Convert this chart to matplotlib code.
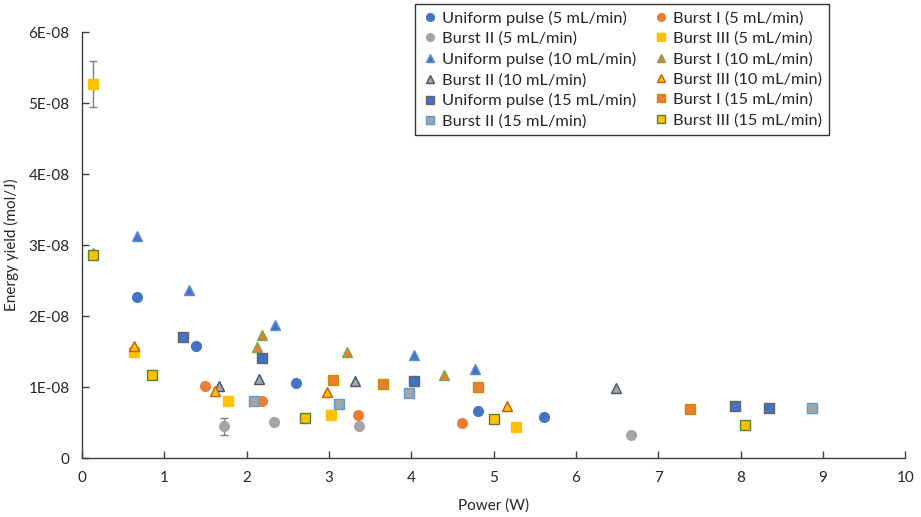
import matplotlib
matplotlib.use("Agg")
import matplotlib.pyplot as plt
from matplotlib.ticker import FuncFormatter, MultipleLocator

plt.rcParams['font.family'] = ['Lato', 'DejaVu Sans']

# Data: power (W) and energy yield (x1e-8 mol/J)
up5_x = [0.67, 1.38, 2.60, 4.81, 5.61]
up5_y = [2.27, 1.58, 1.06, 0.66, 0.58]
b1_5_x = [1.50, 2.19, 3.35, 4.61]
b1_5_y = [1.01, 0.80, 0.60, 0.49]
b2_5_x = [1.72, 2.33, 3.36, 6.67]
b2_5_y = [0.45, 0.51, 0.45, 0.33]
b2_5_err = [0.12, 0, 0, 0]
b3_5_x = [0.14, 0.63, 1.77, 3.03, 5.27]
b3_5_y = [5.27, 1.50, 0.80, 0.61, 0.44]
b3_5_err = [0.32, 0, 0, 0, 0]

up10_x = [0.67, 1.30, 2.35, 4.03, 4.77]
up10_y = [3.13, 2.36, 1.87, 1.45, 1.25]
b1_10_x = [0.14, 2.13, 2.19, 3.22, 4.40]
b1_10_y = [2.89, 1.57, 1.74, 1.50, 1.17]
b2_10_x = [1.67, 2.15, 3.32, 6.48]
b2_10_y = [1.01, 1.11, 1.09, 0.98]
b3_10_x = [0.63, 1.61, 2.98, 5.16]
b3_10_y = [1.58, 0.94, 0.93, 0.74]

up15_x = [1.23, 2.19, 4.03, 7.93, 8.34]
up15_y = [1.70, 1.41, 1.09, 0.73, 0.71]
b1_15_x = [3.05, 3.66, 4.81, 7.38]
b1_15_y = [1.10, 1.04, 1.00, 0.69]
b2_15_x = [2.09, 3.12, 3.97, 8.87]
b2_15_y = [0.80, 0.76, 0.91, 0.71]
b3_15_x = [0.14, 0.85, 2.71, 5.01, 8.05]
b3_15_y = [2.86, 1.17, 0.56, 0.55, 0.47]

blue = '#4472C4'
orange = '#ED7D31'
gray = '#A5A5A5'
gold = '#FFC000'

fig = plt.figure(figsize=(9.21, 5.17), dpi=100)
ax = fig.add_axes([0.089, 0.114, 0.894, 0.824])

def scale(v):
    return [a * 1e-8 for a in v]

# error bars first so the markers sit on top
ax.errorbar(b3_5_x, scale(b3_5_y), yerr=scale(b3_5_err), fmt='none',
            ecolor='#7F7F7F', elinewidth=1, capsize=3, capthick=1, zorder=2)
ax.errorbar(b2_5_x, scale(b2_5_y), yerr=scale(b2_5_err), fmt='none',
            ecolor='#7F7F7F', elinewidth=1, capsize=3, capthick=1, zorder=2)

series = [
    # x, y, marker, face, edge, size, label
    (up5_x, up5_y, 'o', blue, blue, 7, 'Uniform pulse (5 mL/min)'),
    (b1_5_x, b1_5_y, 'o', orange, orange, 7, 'Burst I (5 mL/min)'),
    (b2_5_x, b2_5_y, 'o', gray, gray, 7, 'Burst II (5 mL/min)'),
    (b3_5_x, b3_5_y, 's', gold, gold, 7, 'Burst III (5 mL/min)'),
    (up10_x, up10_y, '^', blue, '#5B8FD5', 7.5, 'Uniform pulse (10 mL/min)'),
    (b1_10_x, b1_10_y, '^', orange, '#70AD47', 7.5, 'Burst I (10 mL/min)'),
    (b2_10_x, b2_10_y, '^', gray, '#44546A', 7.5, 'Burst II (10 mL/min)'),
    (b3_10_x, b3_10_y, '^', gold, '#C55A11', 7.5, 'Burst III (10 mL/min)'),
    (up15_x, up15_y, 's', blue, '#636363', 7, 'Uniform pulse (15 mL/min)'),
    (b1_15_x, b1_15_y, 's', orange, '#BF9000', 7, 'Burst I (15 mL/min)'),
    (b2_15_x, b2_15_y, 's', gray, '#5B9BD5', 7, 'Burst II (15 mL/min)'),
    (b3_15_x, b3_15_y, 's', gold, '#548235', 7, 'Burst III (15 mL/min)'),
]

handles = []
for x, y, m, fc, ec, ms, lab in series:
    h, = ax.plot(x, scale(y), linestyle='none', marker=m, markersize=ms,
                 markerfacecolor=fc, markeredgecolor=ec, markeredgewidth=1.0,
                 label=lab, zorder=3)
    handles.append(h)

ax.set_xlim(0, 10)
ax.set_ylim(0, 6e-8)
ax.xaxis.set_major_locator(MultipleLocator(1))
ax.yaxis.set_major_locator(MultipleLocator(1e-8))

def yfmt(v, pos):
    if abs(v) < 1e-12:
        return '0'
    return f'{v:.0E}'

ax.yaxis.set_major_formatter(FuncFormatter(yfmt))

for s in ['top', 'right']:
    ax.spines[s].set_visible(False)
for s in ['left', 'bottom']:
    ax.spines[s].set_color('#404040')
    ax.spines[s].set_linewidth(1)
ax.tick_params(direction='in', length=5, width=1, color='#404040',
               labelsize=11, labelcolor='#262626', pad=9)

ax.set_xlabel('Power (W)', fontsize=11, color='#262626', labelpad=10)
ax.set_ylabel('Energy yield (mol/J)', fontsize=11, color='#262626', labelpad=7)

# legend filled row by row like the original
order = [0, 2, 4, 6, 8, 10, 1, 3, 5, 7, 9, 11]
leg = ax.legend([handles[i] for i in order], [series[i][6] for i in order],
                ncol=2, loc='upper left', bbox_to_anchor=(415 / 921, 1 - 4 / 517),
                bbox_transform=fig.transFigure, borderaxespad=0,
                fontsize=11.8, frameon=True,
                fancybox=False, edgecolor='black', handletextpad=0.25,
                handlelength=1.0, columnspacing=1.0, borderpad=0.4,
                labelspacing=0.36, markerscale=0.8)
leg.get_frame().set_linewidth(1)
for t in leg.get_texts():
    t.set_color('#262626')

fig.savefig('out.png', dpi=100)
